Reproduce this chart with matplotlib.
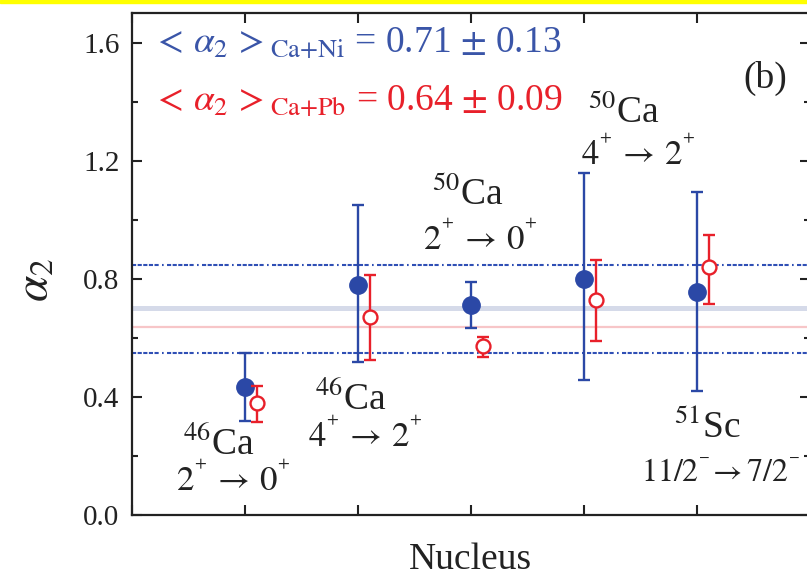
import matplotlib
matplotlib.use("Agg")
import matplotlib.pyplot as plt
from matplotlib.patches import Rectangle
from matplotlib.ticker import MultipleLocator

plt.rcParams['font.family'] = ['Liberation Serif', 'DejaVu Serif']
plt.rcParams['mathtext.fontset'] = 'stix'

# ---- data ----
positions = [1, 2, 3, 4, 5]
ni_values = [0.435, 0.778, 0.710, 0.800, 0.756]
ni_lower = [0.32, 0.518, 0.632, 0.457, 0.420]
ni_upper = [0.548, 1.049, 0.789, 1.157, 1.093]
pb_offset = 0.11
pb_values = [0.379, 0.670, 0.572, 0.727, 0.840]
pb_lower = [0.315, 0.524, 0.536, 0.590, 0.714]
pb_upper = [0.436, 0.812, 0.603, 0.863, 0.947]
mean_ni = 0.70
mean_pb = 0.635
band_ni = [0.55, 0.845]

nucleus_labels = [r'$^{46}$Ca', r'$^{46}$Ca', r'$^{50}$Ca', r'$^{50}$Ca', r'$^{51}$Sc']
transition_labels = [r'$2^{{}^{+}}\,\rightarrow\,0^{{}^{+}}$', r'$4^{{}^{+}}\,\rightarrow\,2^{{}^{+}}$',
                     r'$2^{{}^{+}}\,\rightarrow\,0^{{}^{+}}$', r'$4^{{}^{+}}\,\rightarrow\,2^{{}^{+}}$',
                     r'$11/2^{{}^{-}}\!\rightarrow 7/2^{{}^{-}}$']
transition_sizes = [25, 25, 25, 25, 23]
nucleus_xy = [(0.77, 0.203), (1.94, 0.355), (2.97, 1.049), (4.35, 1.326), (5.09, 0.26)]
transition_xy = [(0.90, 0.081), (2.06, 0.23), (3.08, 0.896), (4.48, 1.184), (5.21, 0.112)]

blue = '#2b48a6'
red = '#e8202a'

fig = plt.figure(figsize=(8.07, 5.77), dpi=100)
ax = fig.add_axes([132/807, (577-515)/577, (810-132)/807, (515-13)/577])

# mean lines
ax.axhline(mean_ni, color='#d5dae9', lw=3.6, zorder=1)
ax.axhline(mean_pb, color='#f7c6c8', lw=1.6, zorder=1)
for yb in band_ni:
    ax.axhline(yb, color='#2f4fb5', lw=1.5, zorder=1,
               dashes=[2.0, 0.7, 2.0, 0.7, 2.0, 0.7, 2.0, 0.7, 2.0, 1.6, 0.8, 1.6])

ni_err = [[v - l for v, l in zip(ni_values, ni_lower)], [u - v for v, u in zip(ni_values, ni_upper)]]
pb_err = [[v - l for v, l in zip(pb_values, pb_lower)], [u - v for v, u in zip(pb_values, pb_upper)]]

ax.errorbar(positions, ni_values, yerr=ni_err, fmt='o', color=blue, ms=12.5,
            elinewidth=1.7, capsize=4, capthick=1.7, zorder=3)
ax.errorbar([p + pb_offset for p in positions], pb_values, yerr=pb_err, fmt='o', color=red,
            mfc='white', mec=red, mew=1.7, ms=10, elinewidth=1.7, capsize=4, capthick=1.7, zorder=4)

ax.set_xlim(0, 6)
ax.set_ylim(0, 1.7)
ax.xaxis.set_major_locator(MultipleLocator(1))
ax.yaxis.set_major_locator(MultipleLocator(0.4))
ax.yaxis.set_minor_locator(MultipleLocator(0.2))
ax.yaxis.set_major_formatter(matplotlib.ticker.FormatStrFormatter('%.1f'))
ax.set_xticklabels([])
ax.tick_params(which='both', direction='in', top=True, right=True, width=1.5, color='#222222')
ax.tick_params(which='major', length=7, labelsize=21, pad=9, labelcolor='#222222')
ax.tick_params(which='minor', length=4)
for s in ax.spines.values():
    s.set_linewidth(1.6)
    s.set_color('#222222')

for lab, (x, y) in zip(nucleus_labels, nucleus_xy):
    ax.text(x, y, lab, fontsize=27, ha='center', va='baseline', color='#222222', zorder=5)
for lab, (x, y), fs in zip(transition_labels, transition_xy, transition_sizes):
    ax.text(x, y, lab, fontsize=fs, ha='center', va='baseline', color='#222222', zorder=5)

ax.text(5.6, 1.448, '(b)', fontsize=27, ha='center', va='baseline', color='#222222')
ax.text(0.177, 1.566, r'$<\,\alpha_2\,>_{\rm Ca{+}Ni}$ = 0.71 $\pm$ 0.13', fontsize=27,
        ha='left', va='baseline', color='#3a55a8')
ax.text(0.177, 1.37, r'$<\,\alpha_2\,>_{\rm Ca{+}Pb}$ = 0.64 $\pm$ 0.09', fontsize=27,
        ha='left', va='baseline', color=red)

fig.text(470/807, 8/577, 'Nucleus', fontsize=27, ha='center', va='baseline', color='#222222')
fig.text(36/807, 1 - 280/577, r'$\alpha_2$', fontsize=34, ha='center', va='center',
         rotation=90, color='#222222')

fig.patches.append(Rectangle((0, 1 - 3/577), 1, 3/577, transform=fig.transFigure,
                             color='#ffff00', zorder=10))

fig.savefig('out.png', dpi=100)
